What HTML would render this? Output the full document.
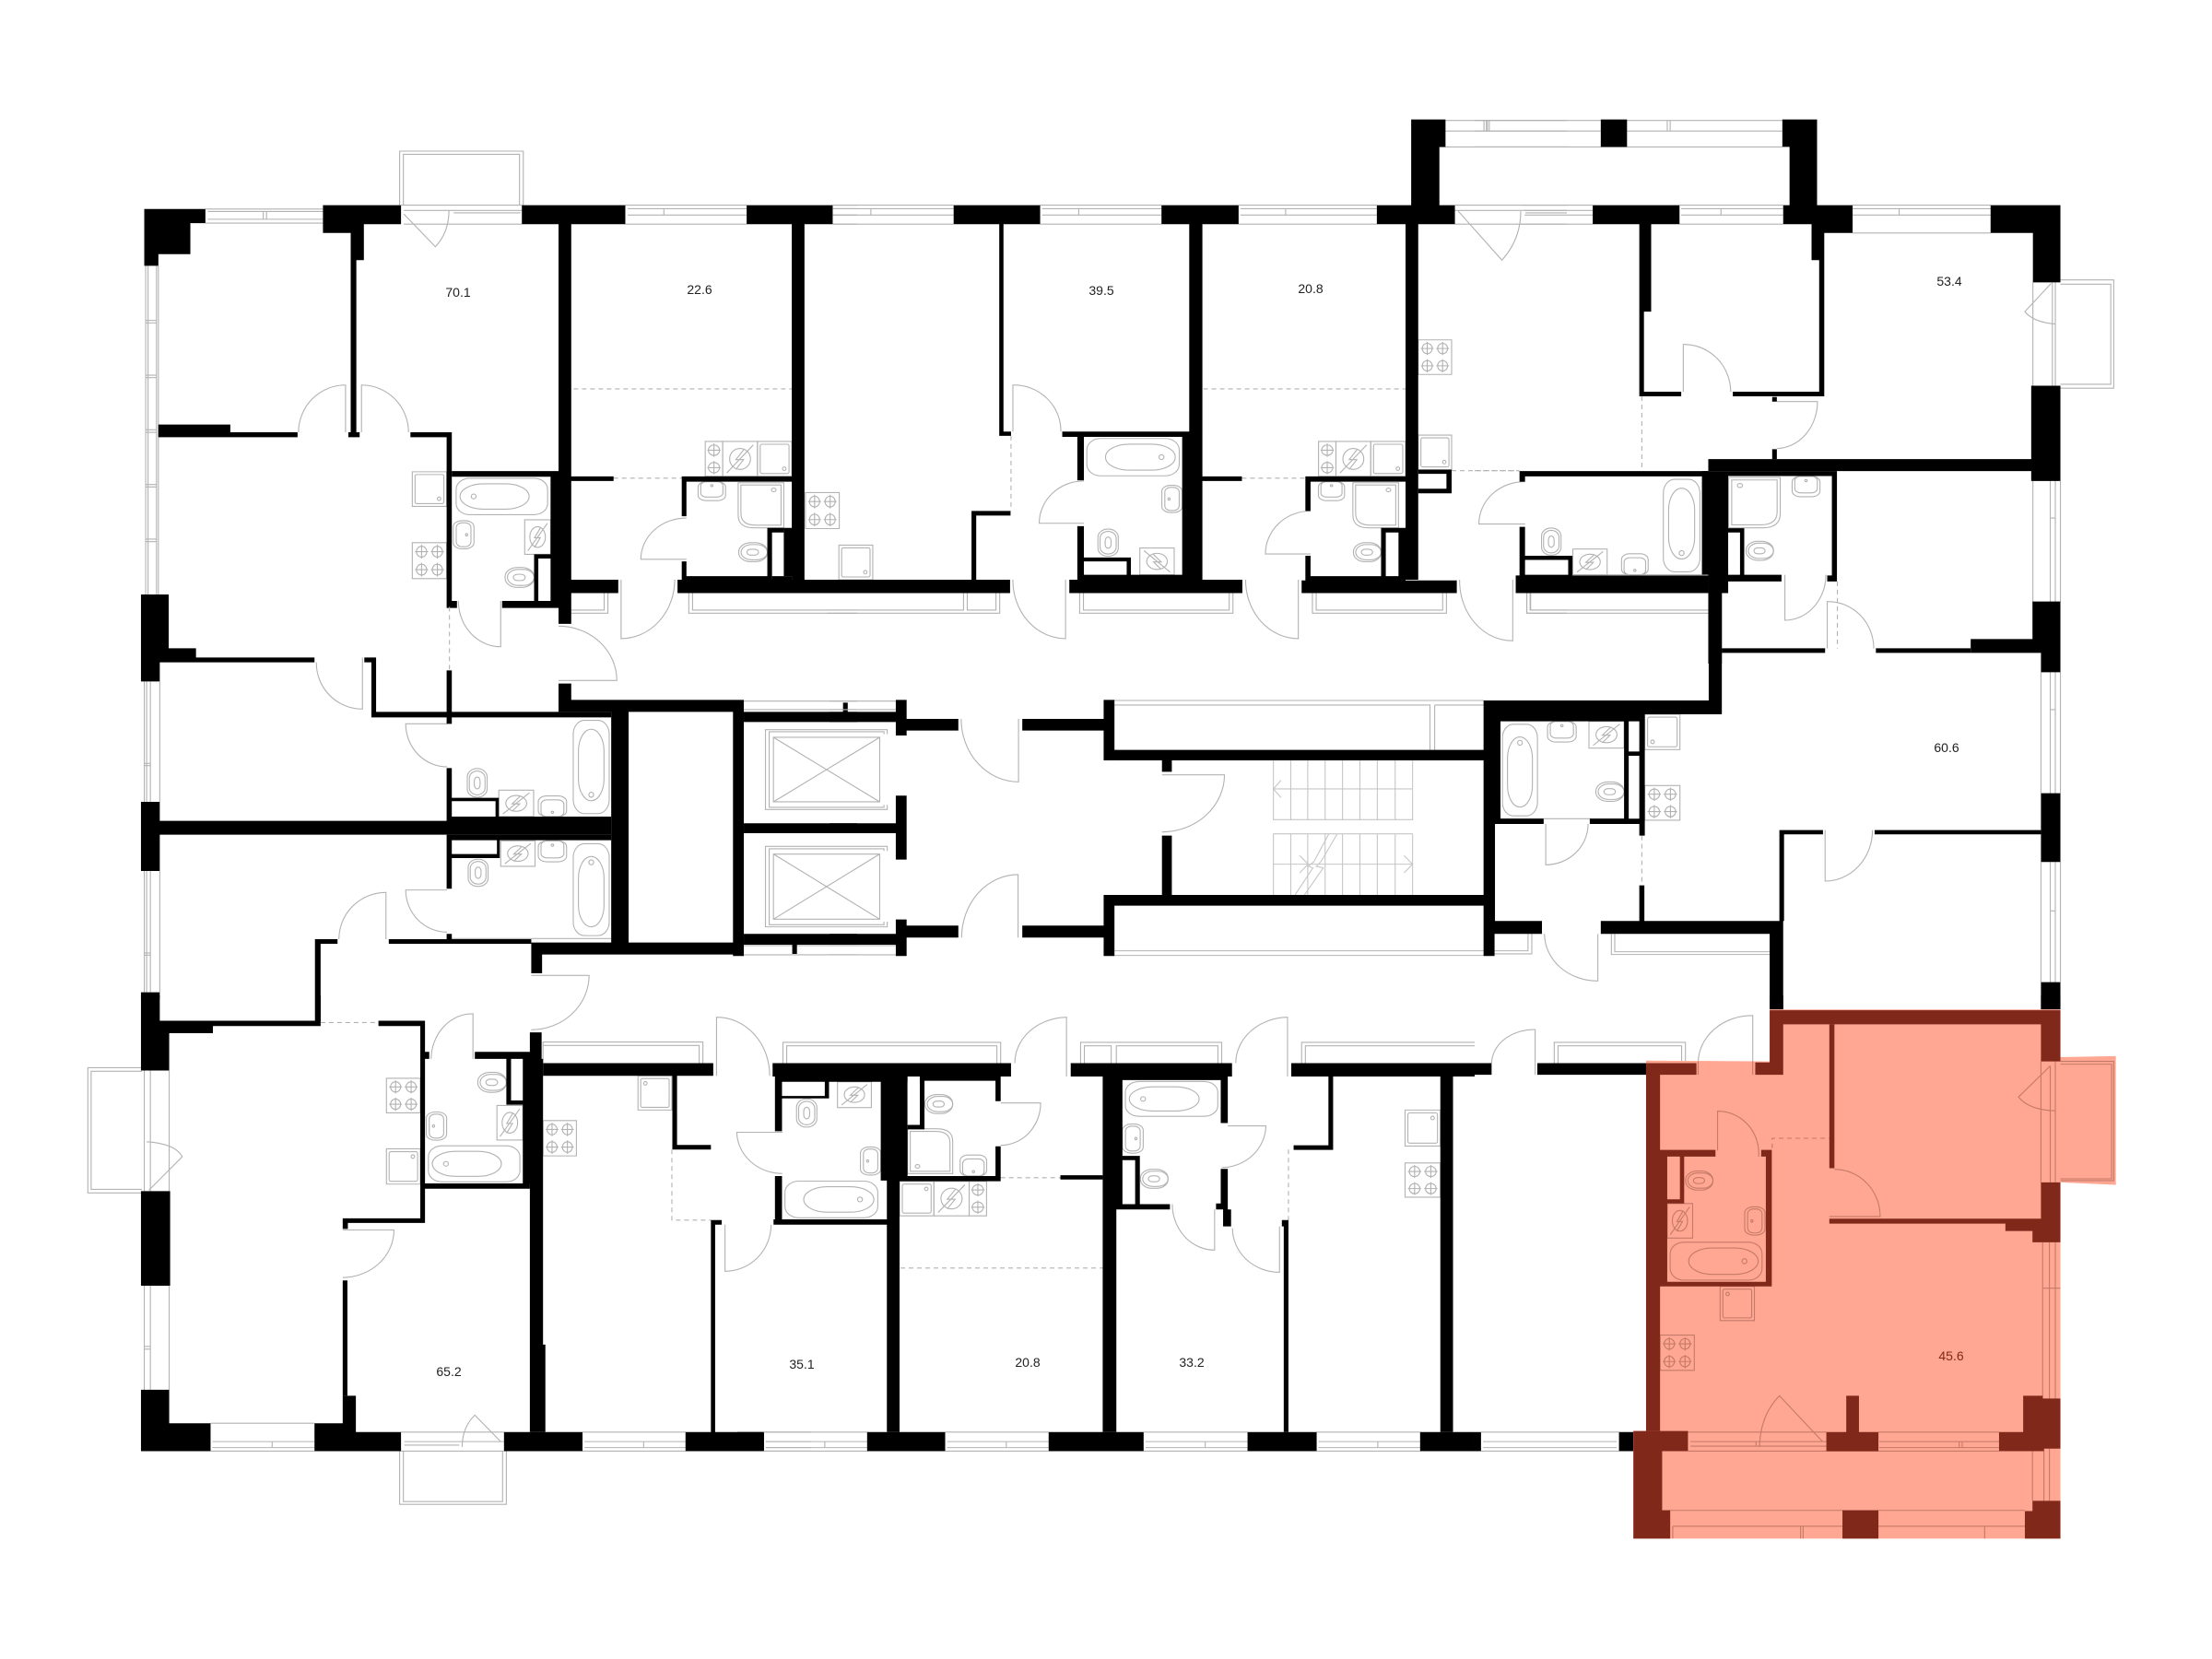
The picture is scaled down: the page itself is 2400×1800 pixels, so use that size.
<!DOCTYPE html>
<html><head><meta charset="utf-8"><style>
html,body{margin:0;padding:0;background:#fff}
svg{display:block;fill:none;stroke:#b2b2b2;stroke-width:1.1}
svg *{vector-effect:non-scaling-stroke}
.w{fill:#000;stroke:none}
.c{fill:#fff;stroke:none}
.d{stroke-dasharray:5 4}
.m{stroke:#c47a68}
.m .w{fill:#80281a}
.m .c{fill:#ffa792}
text{font:14px "Liberation Sans",sans-serif;fill:#222;stroke:none;text-anchor:middle}
</style></head><body>
<svg width="2400" height="1800" viewBox="0 0 2400 1800" xmlns="http://www.w3.org/2000/svg">
<defs>
<g id="s"><rect width="100" height="100"/><ellipse cx="27" cy="25" rx="15" ry="15"/><ellipse cx="73" cy="25" rx="15" ry="15"/><ellipse cx="27" cy="75" rx="15" ry="15"/><ellipse cx="73" cy="75" rx="15" ry="15"/><path d="M27,6V44M8,25H46M73,6V44M54,25H92M27,56V94M8,75H46M73,56V94M54,75H92"/></g>
<g id="h"><rect width="100" height="100"/><ellipse cx="50" cy="25" rx="32" ry="15"/><ellipse cx="50" cy="75" rx="32" ry="15"/><path d="M50,6V44M12,25H88M50,56V94M12,75H88"/></g>
<g id="f"><rect width="100" height="100"/><rect x="8" y="8" width="84" height="84" rx="5" ry="5"/><ellipse cx="78" cy="78" rx="5" ry="5"/></g>
<g id="b"><rect x="3" y="4" width="94" height="92" rx="14" ry="28"/><rect x="7" y="18" width="71" height="64" rx="24" ry="32"/><ellipse cx="21" cy="50" rx="2.5" ry="6"/></g>
<g id="v"><rect x="5" y="3" width="90" height="94" rx="28" ry="14"/><rect x="18" y="16" width="64" height="72" rx="32" ry="22"/><ellipse cx="50" cy="22" rx="6" ry="2.5"/></g>
<g id="n"><rect width="100" height="100"/><ellipse cx="50" cy="50" rx="30" ry="30"/><path d="M12,90L88,10M62,22L38,52H60L38,80"/></g>
<g id="t"><rect x="2" y="5" width="98" height="90" rx="42" ry="42"/><rect x="10" y="14" width="90" height="72" rx="36" ry="36"/><rect x="30" y="36" width="40" height="28" rx="14" ry="14"/></g>
<g id="u"><rect x="2" y="2" width="96" height="96" rx="46" ry="28"/><rect x="12" y="10" width="76" height="80" rx="38" ry="24"/><rect x="36" y="30" width="28" height="40" rx="14" ry="14"/></g>
<g id="k"><rect x="3" y="0" width="94" height="96" rx="28" ry="26"/><rect x="12" y="0" width="76" height="78" rx="20" ry="20"/><ellipse cx="50" cy="20" rx="4" ry="5"/></g>
<g id="q"><rect x="0" y="3" width="96" height="94" rx="42" ry="20"/><rect x="14" y="10" width="68" height="80" rx="28" ry="16"/><ellipse cx="62" cy="50" rx="5" ry="4"/></g>
<g id="r"><path d="M0,0H100V100H35Q0,100 0,72z"/><path d="M6,5H94V94H38Q6,94 6,68z"/><ellipse cx="78" cy="16" rx="5" ry="4"/></g>
</defs>

<!-- z1 -->
<g transform="matrix(.5102,0,0,.3827,130,120)">
<path d="M595,268V115H858V268M603,268V124H850V268"/>
<path d="M182,279H432M187,286H432M187,308H432M182,319H432M305,286V308M312,286V308"/>
<path d="M598,268H855M604,283H855M710,290H852M604,322H855"/>
<path d="M1075,268H1333M1080,278H1333M1080,296H1333M1075,322H1333M1157,278V296M1516,268H1568M1516,278H1568M1516,296H1568M1516,322H1568"/>
<path d="M55,440V1373M60,440V1373M78,440V1373M82,440V1373M55,595H78M55,602H78M55,750H78M55,757H78M55,905H78M55,912H78M55,1060H78M55,1067H78M55,1215H78M55,1222H78"/>
<path d="M604,293L671,386Q700,345 700,283"/>
<path d="M380,912A100,134 0 0 1 480,778V912M514,912V778A100,134 0 0 1 614,912"/>
<path d="M720,1390A90,130 0 0 0 810,1520V1390M1066,1330V1497A114,167 0 0 0 1180,1330M1205,1155A97,117 0 0 0 1108,1272H1205"/>
<path d="M960,1425H1038V1368M960,1416H1030V1368M1210,1368V1425H1568M1218,1368V1416H1568"/>
<path class="d" d="M965,789H1429M1050,1042H1196"/>
<use href="#s" transform="matrix(.73,0,0,1.02,622,1225)"/>
<use href="#f" transform="matrix(.73,0,0,.98,622,1024)"/>
<use href="#b" transform="matrix(2.07,0,0,1.12,709,1038)"/>
<use href="#q" transform="matrix(.46,0,0,.85,709,1160)"/>
<use href="#n" transform="matrix(.55,0,0,.98,861,1160)"/>
<use href="#t" transform="matrix(.63,0,0,.63,818,1292)"/>
<use href="#h" transform="matrix(.37,0,0,.99,1245,938)"/>
<use href="#n" transform="matrix(.74,0,0,.99,1282,938)"/>
<use href="#f" transform="matrix(.73,0,0,.99,1356,938)"/>
<use href="#k" transform="matrix(.62,0,0,.56,1228,1052)"/>
<use href="#r" transform="matrix(.97,0,0,1.28,1315,1055)"/>
<use href="#t" transform="matrix(.62,0,0,.6,1315,1222)"/>
<use href="#s" transform="matrix(.72,0,0,1.02,1458,1083)"/>
<path class="w" d="M52,279H182V319H150V407H82V440H52z"/>
<path class="w" d="M432,268H598V322H519V424H503V912H510V926H486V912H491V347H432z"/>
<path class="w" d="M855,268H1075V322H855zM933,322H960V1455H933zM960,1330H1060V1368H960zM960,1037H1050V1050H960zM706,1022H933V1038H706zM916,1038H933V1390H916zM881,1258H916V1270H890V1390H881zM813,1390H933V1410H813z"/>
<path class="w" d="M618,912H706V1390H717V1410H695V926H618z"/>
<path class="w" d="M82,890H235V912H378V926H82z"/>
<path class="w" d="M1333,268H1516V322H1333zM1429,322H1456V1330H1429zM1195,1037H1429V1052H1205V1150H1195zM1412,1183H1429V1320H1412z"/>
<path class="w" d="M1195,1278H1205V1320H1377V1183H1412V1196H1387V1330H1195z"/>
<path class="w" d="M1387,1320H1429V1330H1387zM1186,1330H1568V1368H1186z"/>
</g>

<!-- z2 -->
<g transform="matrix(.5102,0,0,.3827,900,120)">
<path d="M8,268H264M8,278H264M8,296H264M8,322H264M88,278V296M448,268H706M452,278H706M452,296H706M448,322H706M530,278V296M870,268H1164M874,278H1164M874,296H1164M870,322H1164M970,278V296"/>
<path d="M1337,285L1430,424Q1470,365 1470,285M1330,268H1568M1330,283H1568M1480,290H1568M1330,322H1568"/>
<path d="M1310,28H1568M1310,58H1568M1297,103H1568M1397,28V58M1403,28V58"/>
<path d="M390,910V778A100,130 0 0 1 492,910M541,1050A95,120 0 0 0 446,1170H541M390,1330A112,165 0 0 0 502,1497V1330M1023,1135A96,122 0 0 0 927,1257H1023M885,1330A112,165 0 0 0 997,1497V1330M1340,1330A112,170 0 0 0 1453,1503V1330"/>
<path d="M362,1368V1425H-5M354,1368V1416H293V1368M285,1368V1416H-5M532,1368V1425H858V1368M540,1368V1416H850V1368M1027,1368V1425H1312V1368M1035,1368V1416H1304V1368M1483,1368V1425H1568M1491,1368V1416H1568"/>
<path class="d" d="M386,922V1135M795,789H1225M877,1042H1012M1323,1021H1467"/>
<use href="#f" transform="matrix(.72,0,0,.98,20,1232)"/>
<use href="#b" transform="matrix(-2.09,0,0,1.15,750,925)"/>
<use href="#q" transform="matrix(-.45,0,0,.82,750,1060)"/>
<use href="#u" transform="matrix(.45,0,0,.8,570,1185)"/>
<use href="#n" transform="matrix(-.73,0,0,.76,733,1240)"/>
<use href="#h" transform="matrix(.37,0,0,.99,1040,938)"/>
<use href="#n" transform="matrix(.74,0,0,.99,1077,938)"/>
<use href="#f" transform="matrix(.74,0,0,.99,1151,938)"/>
<use href="#k" transform="matrix(.59,0,0,.56,1038,1052)"/>
<use href="#r" transform="matrix(.97,0,0,1.28,1113,1055)"/>
<use href="#t" transform="matrix(.6,0,0,.6,1113,1222)"/>
<use href="#s" transform="matrix(.71,0,0,.98,1252,650)"/>
<use href="#f" transform="matrix(.71,0,0,.98,1252,920)"/>
<path class="w" d="M264,268H448V322H264zM361,322H370V910H386V922H361zM302,1135H385V1148H312V1330H302zM-5,1330H384V1368H-5z"/>
<path class="w" d="M706,268H870V322H706zM765,322H793V1330H765zM495,910H765V925H495zM750,925H765V1330H750zM527,925H541V1048H527zM527,1178H541V1330H527zM541,1267H641V1278H541zM632,1278H641V1316H632zM541,1316H750V1330H541zM510,1330H878V1368H510zM793,1037H877V1050H793z"/>
<path class="w" d="M1164,268H1330V322H1164zM1237,25H1310V103H1297V268H1237zM1225,322H1252V1330H1225zM1012,1037H1225V1052H1023V1135H1012z"/>
<path class="w" d="M1012,1262H1023V1320H1173V1183H1225V1196H1183V1320H1225V1332H1012zM1210,1196H1225V1320H1210zM1004,1332H1334V1368H1004z"/>
<path class="w" d="M1252,1018H1323V1085H1252V1072H1312V1030H1252z"/>
</g>

<!-- z3 -->
<g transform="matrix(.4592,0,0,.3827,1600,120)">
<path d="M0,28H298M0,58H298M0,103H727M22,28V58M30,28V58M360,28H727M360,58H727M455,28V58M462,28V58"/>
<path d="M108,268H279M118,283H279M118,296H279M108,322H279M484,268H729M488,278H729M488,296H729M484,322H729M582,278V296M893,268H1219M893,278H1219M893,296H1219M893,347H1219M1003,278V296"/>
<path d="M1319,487V780M1365,487V780M1372,487V780M1384,480H1510V787H1384M1384,492H1503V776H1384M1362,490L1300,570Q1320,600 1372,605"/>
<path d="M1319,1050V1393M1360,1050V1393M1372,1050V1393M1384,1050V1393M1360,1155H1372"/>
<path d="M493,797V663A110,135 0 0 1 605,797M714,825H810A98,133 0 0 1 714,958M733,1316V1445A97,130 0 0 0 830,1316M833,1525V1392A108,133 0 0 1 943,1525M119,1052A108,120 0 0 0 10,1172H119"/>
<path d="M123,1368V1425H552M131,1368V1416H552"/>
<path class="d" d="M395,810V1022M857,1335V1525M0,1021H106"/>
<use href="#k" transform="matrix(.67,0,0,-.62,345,1316)"/>
<use href="#v" transform="matrix(.96,0,0,-2.79,441,1316)"/>
<use href="#n" transform="matrix(.81,0,0,.73,232,1243)"/>
<use href="#u" transform="matrix(.48,0,0,.8,157,1182)"/>
<use href="#r" transform="matrix(-1.22,0,0,1.43,722,1040)"/>
<use href="#k" transform="matrix(.7,0,0,.6,748,1037)"/>
<use href="#t" transform="matrix(.66,0,0,.6,640,1218)"/>
<path d="M119,1316H537"/>
<path class="w" d="M298,25H360V103H298z"/>
<path class="w" d="M727,25H809V268H893V347H826V810H610V797H814V424H796V322H729V268H744V103H727z"/>
<path class="w" d="M279,268H484V322H279zM389,322H417V570H400V810H389zM389,797H488V810H389z"/>
<path class="w" d="M1219,268H1384V487H1319V347H1219zM1315,780H1384V1050H1315zM552,988H1315V1022H552z"/>
<path class="w" d="M106,1022H552V1037H119V1052H106z"/>
<path class="w" d="M106,1180H119V1262H231V1318H552V1368H97V1318H106z"/>
<path class="c" d="M119,1274H221V1316H119z"/>
<path class="w" d="M537,1022H599V1368H552V1316H537zM552,1368H584V1568H552zM599,1022H856V1036H599zM844,1022H856V1335H833V1318H844zM599,1316H725V1335H599zM599,1184H637V1316H599z"/>
<path class="c" d="M599,1196H627V1316H599z"/>
<path class="w" d="M703,812H714V825H703zM703,960H714V988H703z"/>
</g>

<!-- z4 -->
<g transform="matrix(.5102,0,0,.3333,130,640)">
<path d="M52,298V690M57,298V690M65,298V690M85,298V690M52,565H65M52,572H65M52,915V1310M57,915V1310M65,915V1310M85,915V1310M52,1182H65M52,1189H65"/>
<path d="M933,118A124,177 0 0 1 1057,295H933M696,436H608A88,140 0 0 0 696,576M696,977H608A88,137 0 0 0 696,1114M466,1137A100,152 0 0 1 566,985V1137M418,236A98,150 0 0 0 516,388V220M875,1255H998A123,178 0 0 1 875,1432"/>
<path d="M1327,362H1568M1327,1188H1568M1327,1158H1568M1327,390H1568"/>
<path d="M1632,470V455H1373V715H1632V700M1625,470V462H1381V708H1625V700M1390,480H1616V690H1390zM1390,480L1616,690M1616,480L1390,690"/>
<path d="M1632,850V835H1373V1097H1632V1080M1625,850V843H1381V1090H1625V1080M1390,860H1616V1072H1390zM1390,860L1616,1072M1616,860L1390,1072"/>
<path class="d" d="M701,55V262"/>
<use href="#v" transform="matrix(.85,0,0,-3.23,960,738)"/>
<use href="#k" transform="matrix(.64,0,0,-.7,888,738)"/>
<use href="#n" transform="matrix(.74,0,0,.86,806,652)"/>
<use href="#u" transform="matrix(.44,0,0,.97,738,580)"/>
<use href="#v" transform="matrix(.85,0,0,3.18,960,817)"/>
<use href="#k" transform="matrix(.64,0,0,.71,888,817)"/>
<use href="#n" transform="matrix(.73,0,0,.83,810,817)"/>
<use href="#u" transform="matrix(.44,0,0,.92,740,875)"/>
<path d="M706,1135H1045"/>
<path class="w" d="M45,15H104V190H162V220H414V236H85V298H45zM520,220H545V397H1045V415H535V236H520zM695,262H706V436H695z"/>
<path class="w" d="M933,305H960V397H933zM933,358H1327V397H933zM1045,397H1082V1150H1045zM1304,358H1327V1192H1304zM875,1148H1304V1187H875zM875,1187H898V1248H875z"/>
<path class="w" d="M1327,397H1568V430H1327zM1327,760H1568V792H1327zM1327,1120H1568V1155H1327zM1538,367H1548V397H1538zM1430,1155H1440V1185H1430z"/>
<path class="w" d="M45,690H85V915H45zM85,752H1045V797H85zM695,580H706V752H695zM706,677H806V688H706zM799,688H806V738H799zM706,738H1045V752H706z"/>
<path class="w" d="M695,797H706V973H695zM706,797H1045V815H706zM706,860H808V873H706zM802,815H808V860H802zM695,1120H706V1137H695zM572,1137H875V1152H572zM415,1137H463V1152H427V1405H415zM45,1310H85V1330H45z"/>
</g>

<!-- z5 -->
<g transform="matrix(.5102,0,0,.3333,900,640)">
<path d="M280,420A122,205 0 0 0 402,625V420M281,1132A120,205 0 0 1 401,927V1132M707,602H840A133,187 0 0 1 707,788"/>
<path d="M0,362H141M0,390H141M0,1158H141M0,1188H141"/>
<path d="M606,360H1392M606,375H1277V521M1287,375V521M1287,375H1392M606,1175H1392M606,1190H1392"/>
<g stroke="#c6c6c6">
<path d="M944,555V750M981,555V750M1017,555V750M1054,555V750M1091,555V750M1128,555V750M1165,555V750M1203,555V750M1240,555V750M944,794V993M981,794V993M1017,794V993M1054,794V993M1091,794V993M1128,794V993M1165,794V993M1203,794V993M1240,794V993M944,748H1240M944,794H1240M944,648H1240M960,620L944,648L960,676M944,893H1240M1222,865L1240,893L1222,921M1000,865L1018,893L1000,921"/>
<path d="M1062,794L1030,885L1018,900L1028,905L990,993M1080,794L1045,885L1035,900L1050,905L1010,993"/>
</g>
<path class="w" d="M0,397H141V430H0zM141,358H164V474H141zM164,420H274V458H164zM410,420H583V458H410zM583,358H606V555H583zM606,521H1392V555H606z"/>
<path class="w" d="M141,670H164V878H141zM0,760H141V792H0zM0,1120H141V1155H0zM141,1073H164V1192H141zM164,1093H274V1132H164zM410,1093H583V1132H410zM583,993H606V1192H583zM606,993H1392V1028H606z"/>
<path class="w" d="M707,555H728V592H707zM707,800H728V993H707z"/>
</g>

<!-- z6 -->
<g transform="matrix(.4592,0,0,.3333,1600,640)">
<path d="M168,762V895A100,133 0 0 0 268,762M165,1120A125,153 0 0 0 291,1273V1120M828,782V948A112,166 0 0 0 940,782"/>
<path d="M1338,268V662M1360,268V662M1372,268V662M1384,268V662M1360,390H1372M1338,886V1277M1360,886V1277M1372,886V1277M1384,886V1277M1360,1045H1372"/>
<path d="M323,1120V1187H697M331,1120V1178H697M47,1185H135V1120M47,1175H126V1120"/>
<path class="d" d="M395,800V962"/>
<use href="#v" transform="matrix(.92,0,0,3.17,61,428)"/>
<use href="#k" transform="matrix(.72,0,0,.7,170,428)"/>
<use href="#n" transform="matrix(.83,0,0,.87,270,428)"/>
<use href="#t" transform="matrix(.68,0,0,.7,285,622)"/>
<use href="#f" transform="matrix(-.83,0,0,1.15,485,405)"/>
<use href="#s" transform="matrix(.83,0,0,1.13,402,637)"/>
<path d="M61,745H353"/>
<path class="w" d="M21,360H553V0H584V405H402V800H389V762H272V745H353V428H61V745H163V762H48V1078H159V1120H47V1192H21z"/>
<path class="c" d="M364,428H389V526H364zM364,540H389V745H364z"/>
<path class="w" d="M389,962H401V1078H389zM298,1078H729V1120H298zM720,782H823V796H720zM720,782H731V1078H720zM697,1120H729V1365H697zM945,782H1338V796H945zM584,190H828V205H584zM948,190H1172V205H948z"/>
<path class="w" d="M1318,38H1384V268H1338V205H1172V160H1318zM1338,662H1384V886H1338zM1338,1277H1384V1365H1338z"/>
</g>

<!-- z7 -->
<g transform="matrix(.5102,0,0,.3827,80,1080)">
<path d="M145,205H30V560H145M145,215H37V550H145M150,213V555M163,213V555M203,213V555M155,415Q215,420 231,457L160,552"/>
<path d="M150,823V1118M163,823V1118M203,823V1118M150,995H163M150,1003H163"/>
<path d="M291,1213H512M295,1265H512M295,1282H512M291,1292H512M422,1265V1282M696,1238H915M703,1265H915M703,1275H820M696,1292H915M693,1292V1443H920V1292M701,1292V1435H912V1292M826,1280Q826,1225 853,1190L908,1265"/>
<path d="M1082,1238H1301M1086,1265H1301M1086,1282H1301M1082,1292H1301M1212,1265V1282M1468,1238H1568M1472,1265H1568M1472,1282H1568M1468,1292H1568"/>
<path d="M760,180A88,130 0 0 1 849,52V180M572,665H681A110,135 0 0 1 572,800M1367,228V62A112,165 0 0 1 1480,228M1385,650V782A98,132 0 0 0 1483,650M1507,388H1410A97,120 0 0 0 1507,505"/>
<path d="M998,192V132H1338V192M998,142H1330V192"/>
<path class="d" d="M1272,437V637H1355M525,77H648"/>
<use href="#s" transform="matrix(.72,0,0,.98,665,235)"/>
<use href="#f" transform="matrix(.72,0,0,-1,665,535)"/>
<use href="#q" transform="matrix(-.45,0,0,.85,793,328)"/>
<use href="#b" transform="matrix(2.07,0,0,1.11,748,422)"/>
<use href="#n" transform="matrix(.55,0,0,.98,900,312)"/>
<use href="#t" transform="matrix(.62,0,0,.63,858,215)"/>
<use href="#s" transform="matrix(.71,0,0,1,998,355)"/>
<use href="#f" transform="matrix(-.72,0,0,-.97,1272,325)"/>
<path class="w" d="M143,0H183V72H296V107H203V213H143zM183,72H525V87H183zM514,0H525V87H514z"/>
<path class="w" d="M648,72H745V87H648zM737,72H747V645H737zM737,160H756V180H737zM747,533H970V548H747zM572,632H747V645H572zM572,645H583V662H572zM572,808H582V1135H572z"/>
<path class="w" d="M512,1213H572V1135H600V1238H696V1292H512zM143,555H205V823H143zM143,1118H203V1213H291V1292H143z"/>
<path class="w" d="M853,160H970V180H853zM970,105H995V192H970zM955,180H998V533H955zM970,192H998V990H970zM970,990H1003V1238H970zM920,180H930V310H920zM920,298H958V310H920z"/>
<path class="w" d="M998,192H1360V228H998zM1273,228H1283V437H1273zM1273,424H1355V437H1273zM1355,637H1378V650H1355zM1355,637H1364V1238H1355zM915,1238H1082V1292H915zM1301,1238H1468V1292H1301z"/>
</g>

<!-- z8 -->
<g transform="matrix(.5102,0,0,.3827,800,1080)">
<path d="M590,192A112,130 0 0 1 700,62V230M1060,192A112,130 0 0 1 1170,62V230M560,305H645A85,120 0 0 1 560,425M1043,370H1124A95,120 0 0 1 1030,488M925,592A90,130 0 0 0 1015,722V607M1053,660A100,125 0 0 0 1153,785V655"/>
<path d="M97,192V133H560V192M105,192V143H552V192M730,192V133H1030V192M738,192V143H795V192M806,192V143H1022V192M1200,192V133H1568M1208,192V143H1568"/>
<path d="M56,1238H276M60,1265H276M60,1282H276M56,1292H276M186,1265V1282M442,1238H662M446,1265H662M446,1282H662M442,1292H662M572,1265V1282M864,1238H1085M868,1265H1085M868,1282H1085M864,1292H1085M995,1265V1282M1232,1238H1452M1236,1265H1452M1236,1282H1452M1232,1292H1452M1362,1265V1282"/>
<path class="d" d="M560,517H687M347,773H777M1172,437V637"/>
<use href="#n" transform="matrix(.72,0,0,.73,213,245)"/>
<use href="#u" transform="matrix(.45,0,0,.83,125,292)"/>
<use href="#q" transform="matrix(-.45,0,0,.85,305,427)"/>
<use href="#b" transform="matrix(-2.1,0,0,1.13,305,522)"/>
<use href="#t" transform="matrix(.6,0,0,.6,398,278)"/>
<use href="#r" transform="matrix(-.96,0,0,-1.27,458,505)"/>
<use href="#k" transform="matrix(.6,0,0,-.62,472,512)"/>
<use href="#f" transform="matrix(.73,0,0,-.98,345,625)"/>
<use href="#n" transform="matrix(.75,0,0,.98,418,527)"/>
<use href="#h" transform="matrix(.37,0,0,.98,493,527)"/>
<use href="#b" transform="matrix(2.09,0,0,1.07,819,240)"/>
<use href="#q" transform="matrix(.46,0,0,.88,819,362)"/>
<use href="#t" transform="matrix(.6,0,0,.6,856,490)"/>
<use href="#f" transform="matrix(.75,0,0,-1.02,1420,427)"/>
<use href="#s" transform="matrix(.75,0,0,.97,1420,475)"/>
<path class="w" d="M75,192H582V230H75zM80,230H95V385H80zM80,512H95V648H80zM95,285H195V292H95zM186,245H195V292H186zM95,230H305V245H95zM305,230H362V525H305zM318,525H345V1238H318zM77,635H318V650H77z"/>
<path class="w" d="M362,367H398V380H362zM388,230H398V380H388zM398,230H560V242H398zM549,230H560V300H549zM549,428H560V527H549zM345,512H560V527H345zM687,510H777V522H687z"/>
<path class="c" d="M362,245H388V367H362z"/>
<path class="w" d="M777,230H806V1238H777zM709,192H1052V230H709zM806,230H819V592H806zM819,455H856V467H819zM846,467H856V595H846zM806,592H920V607H806zM819,230H1043V240H819zM1028,240H1043V362H1028zM1028,492H1043V607H1018V590H1028zM1033,607H1050V655H1033z"/>
<path class="w" d="M1158,637H1172V655H1158zM1162,655H1172V1238H1162zM1178,192H1568V230H1178zM1257,230H1267V437H1257zM1183,425H1267V438H1183zM1495,230H1522V1238H1495z"/>
<path class="w" d="M0,1238H56V1292H0zM276,1238H442V1292H276zM662,1238H864V1292H662zM1085,1238H1232V1292H1085zM1452,1238H1568V1292H1452z"/>
</g>

<!-- z9 -->
<g transform="matrix(.4592,0,0,.3827,1600,1080)">
<path d="M40,192A100,97 0 0 1 143,97V225M188,192V133H498V192M197,192V143H489V192M15,1238H341M20,1265H336M20,1282H336M15,1292H341"/>
<path d="M528,192A128,135 0 0 1 657,57V192"/>
<path class="w" d="M0,192H40V225H0zM148,192H405V225H148zM0,1238H15V1292H0zM341,1238H375V1292H341zM697,0H729V40H697zM1338,0H1384V40H1338z"/>
<path fill="#ffa792" stroke="none" d="M405,185L697,187V40H1384V175L1515,172V537L1384,530V1285H1384V1540H375V1235H405z"/>
<g class="m">
<path d="M528,187V225M657,187V225M1338,187V530M1360,200V530M1372,187V530M1384,187H1510V525H1384M1384,195H1505V520H1384M1360,200L1285,288Q1310,325 1372,327"/>
<path d="M574,440V328A97,120 0 0 1 671,457M850,493A108,133 0 0 1 958,627H838M673,1280Q675,1190 720,1135L822,1265"/>
<path d="M504,1238H831M510,1265H831M510,1278H831M665,1265V1278M954,1238H1239M956,1265H1239M956,1282H1239M1145,1265V1282M1152,1265V1282M504,1292H1239"/>
<path d="M1342,700V1143M1358,700V1143M1372,700V1143M1342,830H1384M1318,1292V1433M1345,1285V1433M1358,1285V1433M443,1460H1300M468,1505H1300M468,1540V1505M770,1505V1540M776,1505V1540M1205,1505V1540"/>
<path class="d" d="M703,433V405H838"/>
<use href="#t" transform="matrix(.66,0,0,.6,497,495)"/>
<use href="#q" transform="matrix(-.5,0,0,.85,686,597)"/>
<use href="#n" transform="matrix(.6,0,0,.98,455,590)"/>
<use href="#b" transform="matrix(-2.31,0,0,1.17,686,695)"/>
<use href="#f" transform="matrix(-.81,0,0,-.97,661,922)"/>
<use href="#s" transform="matrix(.81,0,0,1,438,963)"/>
<path class="w" d="M697,42H1384V187H1338V82H729V225H663V190H697z"/>
<path class="w" d="M838,82H850V490H838z"/>
<path class="w" d="M405,192H524V225H438V438H569V457H495V590H455V812H688V457H677V438H702V825H438V1235H405z"/>
<path class="c" d="M455,457H485V578H455z"/>
<path class="w" d="M1338,530H1384V700H1318V668H1254V647H838V633H1338z"/>
<path class="w" d="M375,1235H504V1292H443V1460H462V1540H375zM878,1135H908V1238H878zM831,1238H954V1292H831z"/>
<path class="w" d="M1296,1135H1342V1143H1384V1285H1345V1292H1239V1238H1296zM869,1460H954V1540H869zM1318,1433H1384V1540H1300V1462H1318z"/>
</g>
</g>

<text x="497" y="322">70.1</text>
<text x="759" y="319">22.6</text>
<text x="1195" y="320">39.5</text>
<text x="1422" y="318">20.8</text>
<text x="2115" y="310">53.4</text>
<text x="2112" y="816">60.6</text>
<text x="487" y="1493">65.2</text>
<text x="870" y="1485">35.1</text>
<text x="1115" y="1483">20.8</text>
<text x="1293" y="1483">33.2</text>
<text x="2117" y="1476" style="fill:#80281a">45.6</text>
</svg>
</body></html>
